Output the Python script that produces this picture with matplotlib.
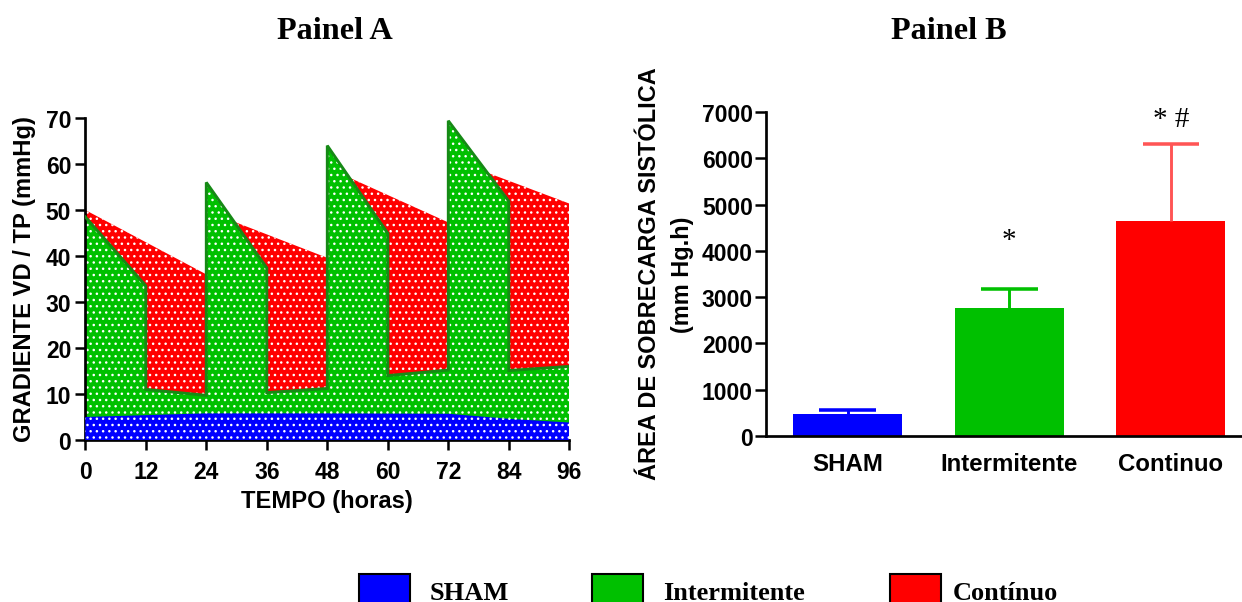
import matplotlib
matplotlib.use("Agg")
import matplotlib.pyplot as plt
from matplotlib.patches import Rectangle

# Painel A: gradiente VD/TP (mmHg) ao longo do tempo
hours_sham = [0, 24, 48, 72, 84, 96]
grad_sham = [5.0, 5.8, 5.8, 5.7, 4.6, 3.8]

hours_inter = [0, 12, 12, 24, 24, 36, 36, 48, 48, 60, 60, 72, 72, 84, 84, 96]
grad_inter = [48.5, 33.5, 11.0, 9.7, 56.0, 37.4, 10.3, 11.2,
              64.0, 44.9, 14.0, 15.2, 69.4, 51.9, 15.1, 16.0]

hours_cont = [0, 24, 24, 48, 48, 72, 72, 96]
grad_cont = [50.0, 36.0, 49.8, 39.6, 59.2, 47.3, 61.3, 51.4]

time_ticks = [0, 12, 24, 36, 48, 60, 72, 84, 96]
grad_ticks = [0, 10, 20, 30, 40, 50, 60, 70]

# Painel B: area de sobrecarga sistolica (mm Hg.h)
groups = ["SHAM", "Intermitente", "Continuo"]
area_mean = [480, 2770, 4650]
area_sem = [85, 400, 1650]
area_ticks = [0, 1000, 2000, 3000, 4000, 5000, 6000, 7000]
signif = ["", "*", "* #"]

legend_names = ["SHAM", "Intermitente", "Contínuo"]

BLUE = "#0000FF"
GREEN = "#00C000"
RED = "#FF0000"
DARK_GREEN = "#168a16"
ERR_COLORS = [BLUE, GREEN, "#FF5555"]

W, H = 1242, 603
SANS = "Liberation Sans"
SERIF = "Liberation Serif"

plt.rcParams["font.family"] = [SANS, "DejaVu Sans"]
plt.rcParams["font.weight"] = "bold"
plt.rcParams["hatch.color"] = "white"
plt.rcParams["hatch.linewidth"] = 0.6


def px(x, y):
    return x / W, 1 - y / H


def style_axes(ax):
    for side in ("top", "right"):
        ax.spines[side].set_visible(False)
    for side in ("left", "bottom"):
        ax.spines[side].set_linewidth(1.3)
    ax.tick_params(direction="out", length=4.8, width=1.2, labelsize=11)


fig = plt.figure(figsize=(W / 150, H / 150), dpi=150)

# ---- Painel A
axA = fig.add_axes([85.3 / W, (H - 441) / H, 484 / W, 322 / H])
axA.fill_between(hours_cont, grad_cont, 0, facecolor=RED, edgecolor="white",
                 linewidth=0, hatch="....", zorder=1)
axA.fill_between(hours_inter, grad_inter, 0, facecolor=GREEN, edgecolor="white",
                 linewidth=0, hatch="....", zorder=2)
axA.plot(hours_inter, grad_inter, color=DARK_GREEN, lw=1.4, zorder=3,
         solid_joinstyle="miter")
axA.fill_between(hours_sham, grad_sham, 0, facecolor=BLUE, edgecolor="white",
                 linewidth=0, hatch="....", zorder=4)
axA.set_xlim(0, 96)
axA.set_ylim(0, 70)
axA.set_xticks(time_ticks)
axA.set_yticks(grad_ticks)
style_axes(axA)
axA.tick_params(axis="x", pad=5)
axA.tick_params(axis="y", pad=2)

fig.text(*px(25, 279), "GRADIENTE VD / TP (mmHg)", rotation=90,
         ha="center", va="center", fontsize=11.4)
fig.text(*px(327, 502), "TEMPO (horas)", ha="center", va="center", fontsize=11.4)
fig.text(*px(335, 39), "Painel A", ha="center", va="baseline",
         family=SERIF, fontsize=15.5)

# ---- Painel B
axB = fig.add_axes([766 / W, (H - 437) / H, 476 / W, 324 / H])
xpos = list(range(len(groups)))
bar_w = 0.675
cap_w = 0.35
axB.bar(xpos, area_mean, width=bar_w, color=[BLUE, GREEN, RED], zorder=2)
# barras de erro apenas para cima (media + EPM)
for x, m, s, c in zip(xpos, area_mean, area_sem, ERR_COLORS):
    axB.vlines(x, m, m + s, color=c, lw=1.4, zorder=3)
    axB.hlines(m + s, x - cap_w / 2, x + cap_w / 2, color=c, lw=1.7, zorder=3)
sig_y = [0, 4080, 6700]
for x, txt, y in zip(xpos, signif, sig_y):
    if txt:
        axB.text(x, y, txt, ha="center", va="baseline", family=SERIF,
                 fontweight="normal", fontsize=14)
axB.set_xlim(-0.505, 2.44)
axB.set_ylim(0, 7000)
axB.set_xticks(xpos)
axB.set_xticklabels(groups)
axB.set_yticks(area_ticks)
style_axes(axB)
axB.tick_params(axis="x", length=0, pad=7.5, labelsize=11.5)
axB.tick_params(axis="y", pad=1, length=5.3)

fig.text(*px(649, 274), "ÁREA DE SOBRECARGA SISTÓLICA", rotation=90,
         ha="center", va="center", fontsize=11.3)
fig.text(*px(682, 275), "(mm Hg.h)", rotation=90,
         ha="center", va="center", fontsize=11.3)
fig.text(*px(949, 39), "Painel B", ha="center", va="baseline",
         family=SERIF, fontsize=15.5)

# ---- legenda comum
for x_box, x_txt, name, c in zip([359, 592, 890], [429.5, 663, 953],
                                 legend_names, [BLUE, GREEN, RED]):
    fig.add_artist(Rectangle(px(x_box, 615), 51 / W, 40 / H, transform=fig.transFigure,
                             facecolor=c, edgecolor="black", lw=1.0))
    fig.text(*px(x_txt, 600), name, ha="left", va="baseline",
             family=SERIF, fontsize=12.7)

fig.savefig("out.png", dpi=150)
